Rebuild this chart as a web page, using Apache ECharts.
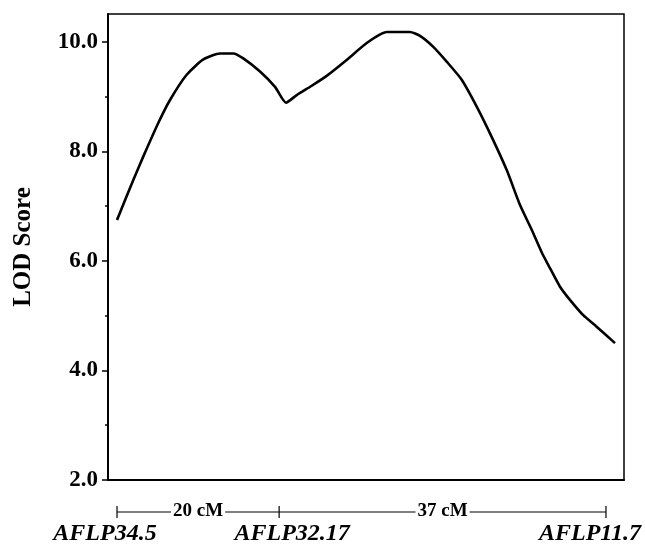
<!DOCTYPE html>
<html>
<head>
<meta charset="utf-8">
<script src="https://cdn.jsdelivr.net/npm/echarts@6/dist/echarts.min.js"></script>
<style>
html,body{margin:0;padding:0;background:#fff;}
#main{width:645px;height:548px;}
</style>
</head>
<body>
<div id="main"></div>
<script>
// Map position (cM from AFLP34.5) and LOD score
const positions = [0, 1.90, 3.07, 4.81, 6.18, 8.12, 10.06, 12.01, 13.56, 14.72, 16.67, 18.42, 19.70, 20.95, 22.70, 24.44, 26.77, 29.11, 31.44, 32.99, 34.15, 35.32, 36.87, 38.43, 40.18, 41.93, 43.48, 45.43, 46.98, 48.34, 49.50, 50.47, 51.64, 52.80, 54.35, 55.91, 58.05];
const lodScores = [6.75, 7.48, 7.91, 8.52, 8.94, 9.40, 9.68, 9.79, 9.79, 9.70, 9.46, 9.18, 8.89, 9.03, 9.20, 9.38, 9.67, 9.98, 10.18, 10.18, 10.18, 10.11, 9.91, 9.64, 9.31, 8.82, 8.33, 7.66, 7.02, 6.57, 6.16, 5.87, 5.53, 5.29, 5.01, 4.80, 4.50];

const yMajorTicks = [2, 4, 6, 8, 10];
const yMinorTicks = [3, 5, 7, 9];

const markerNames = ["AFLP34.5", "AFLP32.17", "AFLP11.7"];
const markerPositions = [0, 18.9, 57];
const intervalLabels = ["20 cM", "37 cM"];

const serif = "'Liberation Serif', 'Times New Roman', serif";

const chart = echarts.init(document.getElementById('main'), null, {renderer: 'canvas'});

const option = {
  animation: false,
  backgroundColor: '#fff',
  grid: {
    left: 108, right: 21, top: 14, bottom: 68,
    show: true, borderColor: '#000', borderWidth: 1.5, backgroundColor: 'transparent'
  },
  xAxis: {
    type: 'value', min: -1.05, max: 59.1,
    axisLine: {show: true, onZero: false, lineStyle: {color: '#000', width: 2}},
    axisTick: {show: false},
    axisLabel: {show: false},
    splitLine: {show: false}
  },
  yAxis: [{
    type: 'value', min: 2, max: 10.51,
    name: 'LOD Score', nameLocation: 'middle', nameGap: 72,
    nameTextStyle: {fontFamily: serif, fontWeight: 'bold', fontSize: 25, color: '#000'},
    axisLine: {show: true, onZero: false, lineStyle: {color: '#000', width: 2}},
    axisTick: {show: true, length: 6, lineStyle: {color: '#000', width: 1.5}, customValues: yMajorTicks},
    axisLabel: {
      customValues: yMajorTicks, margin: 10,
      fontFamily: serif, fontWeight: 'bold', fontSize: 23, color: '#000',
      formatter: v => v.toFixed(1)
    },
    splitLine: {show: false}
  }, {
    type: 'value', min: 2, max: 10.51, position: 'left',
    axisLine: {show: false, onZero: false},
    axisTick: {show: true, length: 3, lineStyle: {color: '#000', width: 1.5}, customValues: yMinorTicks},
    axisLabel: {show: false},
    splitLine: {show: false}
  }],
  series: [{
    type: 'line',
    data: positions.map((x, i) => [x, lodScores[i]]),
    showSymbol: false,
    symbol: 'none',
    smooth: 0.2,
    lineStyle: {color: '#000', width: 2.6},
    clip: true
  }]
};

chart.setOption(option);

// Scale bar and marker labels placed using the x-axis scale
const px = markerPositions.map(v => chart.convertToPixel({xAxisIndex: 0}, v));
const barY = 512;
const graphics = [];
for (let i = 0; i < intervalLabels.length; i++) {
  const x0 = px[i], x1 = px[i + 1];
  graphics.push({
    type: 'line',
    shape: {x1: x0, y1: barY, x2: x1, y2: barY},
    style: {stroke: '#000', lineWidth: 1.2}
  });
  graphics.push({
    type: 'text',
    x: (x0 + x1) / 2, y: barY - 1,
    style: {
      text: intervalLabels[i], fill: '#000', align: 'center', verticalAlign: 'middle',
      font: 'bold 19px ' + serif,
      backgroundColor: '#fff', padding: [0, 2]
    },
    z: 10
  });
}
const labelOffsets = [-12, 13, -16];
px.forEach((x, i) => {
  graphics.push({
    type: 'line',
    shape: {x1: x, y1: barY - 6, x2: x, y2: barY + 6},
    style: {stroke: '#000', lineWidth: 1.2}
  });
  graphics.push({
    type: 'text',
    x: x + labelOffsets[i], y: 534,
    style: {
      text: markerNames[i], fill: '#000', align: 'center', verticalAlign: 'middle',
      font: 'italic bold 24px ' + serif
    }
  });
});
chart.setOption({graphic: graphics});
</script>
</body>
</html>
